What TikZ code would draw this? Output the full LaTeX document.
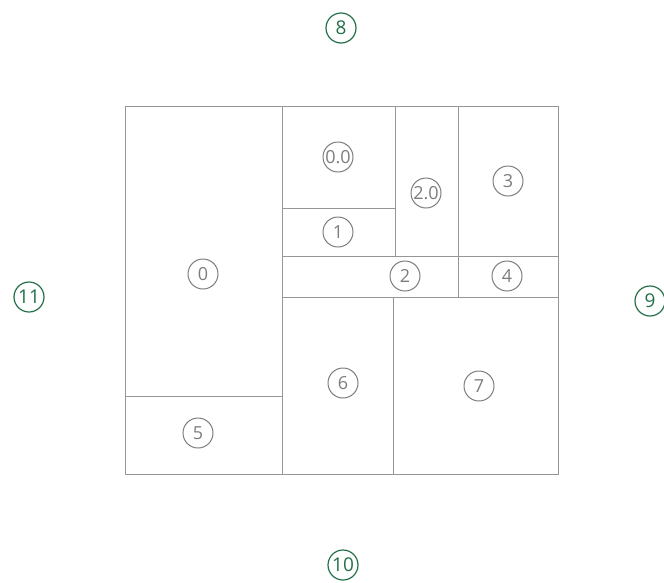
\documentclass[tikz,border=0pt]{standalone}
\usepackage{fontspec}
\setmainfont{Open Sans}
\usepackage{tikz}
\usetikzlibrary{positioning,calc}

\definecolor{wallgray}{RGB}{150,150,150}
\definecolor{taggray}{RGB}{125,125,125}
\definecolor{sidegreen}{RGB}{34,112,72}

\tikzset{
    wall/.style={draw=wallgray, line width=0.9pt},
    tag/.style={circle, draw=taggray, line width=1pt, text=taggray, inner sep=0pt,
        minimum size=30pt, font=\fontsize{18}{19}\selectfont},
    side/.style={circle, draw=sidegreen, line width=1.2pt, text=sidegreen, inner sep=0pt,
        minimum size=30pt, font=\fontsize{19}{20}\selectfont}
}

\begin{document}
\begin{tikzpicture}[x=1pt, y=-1pt]
    \useasboundingbox (0,0) rectangle (664,582);

    % Outline of the plan
    \draw[wall] (125,106) rectangle (558,474);

    % Inner walls
    \draw[wall] (282,106) -- (282,474);
    \draw[wall] (125,396) -- (282,396);
    \draw[wall] (395,106) -- (395,256);
    \draw[wall] (458,106) -- (458,297);
    \draw[wall] (282,208) -- (395,208);
    \draw[wall] (282,256) -- (558,256);
    \draw[wall] (282,297) -- (558,297);
    \draw[wall] (393,297) -- (393,474);

    % Room tags
    \node[tag] (r0) at (203,274) {0};
    \node[tag] (r00) at (338,157) {0.0};
    \node[tag] (r1) at (338,232) {1};
    \node[tag] (r20) at (426,193) {2.0};
    \node[tag] (r2) at (405,276) {2};
    \node[tag] (r3) at (508,181) {3};
    \node[tag] (r4) at (507,276) {4};
    \node[tag] (r5) at (198,433) {5};
    \node[tag] (r6) at (343,383) {6};
    \node[tag] (r7) at (479,386) {7};

    % Sides
    \node[side] (s8) at (341,28) {8};
    \node[side] (s9) at (650,301) {9};
    \node[side] (s10) at (343,565) {10};
    \node[side] (s11) at (29,297) {11};
\end{tikzpicture}
\end{document}
